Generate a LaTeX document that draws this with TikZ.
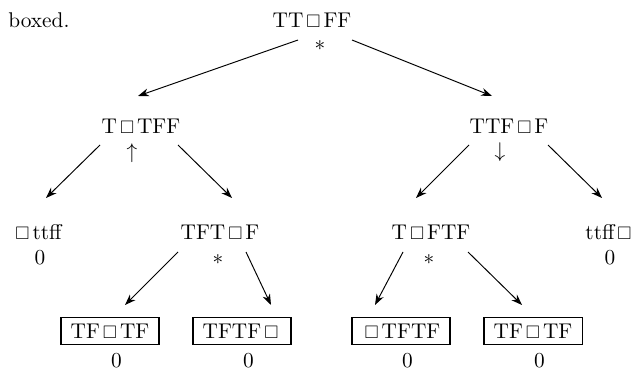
\documentclass[tikz,border=0pt]{standalone}
\usepackage{amsmath,amssymb,graphicx}
\usetikzlibrary{arrows.meta}
\newcommand{\blank}{\kern1.4pt\raisebox{0.1pt}{\scalebox{0.85}{$\square$}}\kern1.4pt}

\begin{document}
\begin{tikzpicture}[x=0.0165cm,y=-0.0165cm,
  st/.style={inner sep=0pt},
  fin/.style={draw,line width=0.6pt,inner xsep=4.6pt,inner ysep=3pt},
  edge/.style={-{Stealth[length=1.8mm,width=1.3mm]},line width=0.45pt}]
  \useasboundingbox (0,0) rectangle (638,376);
  \node[anchor=base west,inner sep=0pt] (txt) at (8,28) {boxed.};
  % game positions
  \node[st] (r) at (312,20) {TT\blank FF};
  \node[st] (l) at (141,126) {T\blank TFF};
  \node[st] (rr) at (509,126) {TTF\blank F};
  \node[st] (ll) at (37,232) {\blank ttff};
  \node[st] (lr) at (220,232) {TFT\blank F};
  \node[st] (rl) at (431,232) {T\blank FTF};
  \node[st] (rrr) at (610,232) {ttff\blank};
  % final positions
  \node[fin] (b1) at (110,331) {TF\blank TF};
  \node[fin] (b2) at (242,331) {TFTF\blank};
  \node[fin] (b3) at (401,331) {\blank TFTF};
  \node[fin] (b4) at (533,331) {TF\blank TF};
  % marks and values
  \node[st] (m1) at (320,46) {$*$};
  \node[st] (m2) at (132,153) {$\uparrow$};
  \node[st] (m3) at (500,152) {$\downarrow$};
  \node[st] (m4) at (218,260) {$*$};
  \node[st] (m5) at (429,260) {$*$};
  \node[st] (z1) at (40,258) {0};
  \node[st] (z2) at (610,258) {0};
  \foreach \b in {1,...,4}
    \node[st] (v\b) at ([xshift=3]b\b.south |- 0,361) {0};
  % moves
  \draw[edge] ([shift={(-14,20)}]r.center) -- ([shift={(-3,-30)}]l.center);
  \draw[edge] ([shift={(40,20)}]r.center) -- ([shift={(-17,-30)}]rr.center);
  \draw[edge] ([shift={(-41,19)}]l.center) -- ([shift={(9,-34)}]ll.center);
  \draw[edge] ([shift={(37,19)}]l.center) -- ([shift={(12,-34)}]lr.center);
  \draw[edge] ([shift={(-40,19)}]rr.center) -- ([shift={(-15,-34)}]rl.center);
  \draw[edge] ([shift={(39,19)}]rr.center) -- ([shift={(-8,-34)}]rrr.center);
  \draw[edge] ([shift={(-42,20)}]lr.center) -- ([shift={(15,-26)}]b1.center);
  \draw[edge] ([shift={(26,20)}]lr.center) -- ([shift={(29,-26)}]b2.center);
  \draw[edge] ([shift={(-28,20)}]rl.center) -- ([shift={(-26,-26)}]b3.center);
  \draw[edge] ([shift={(37,20)}]rl.center) -- ([shift={(-11,-26)}]b4.center);
\end{tikzpicture}
\end{document}
